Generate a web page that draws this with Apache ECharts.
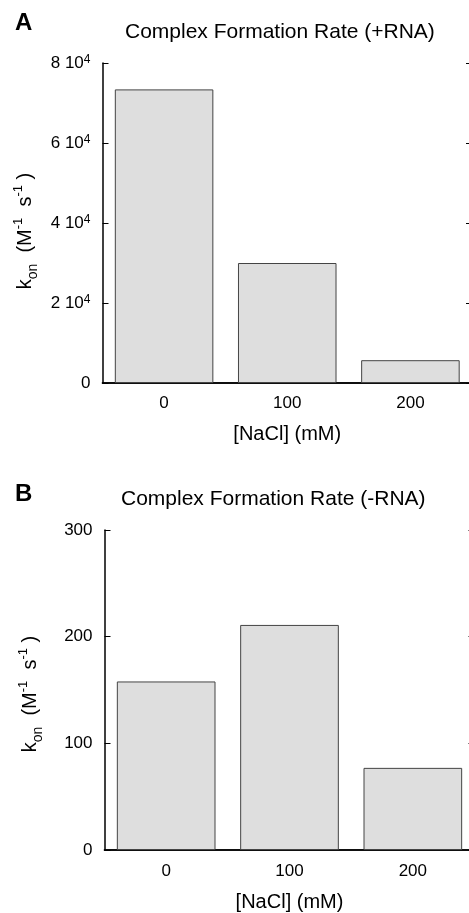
<!DOCTYPE html>
<html>
<head>
<meta charset="utf-8">
<script src="https://cdn.jsdelivr.net/npm/echarts@6/dist/echarts.min.js"></script>
<style>
  html, body { margin: 0; padding: 0; background: #fff; }
  #chart { width: 469px; height: 913px; }
</style>
</head>
<body>
<div id="chart"></div>
<script>
// data
const categories = ['0', '100', '200'];
const rateWithRNA = [73400, 30000, 5700];      // k_on, +RNA
const rateWithoutRNA = [158, 211, 77];         // k_on, -RNA
const ticksWithRNA = [0, 20000, 40000, 60000, 80000];
const ticksWithoutRNA = [0, 100, 200, 300];

const FONT = 'Liberation Sans, Arial, sans-serif';
const BAR_FILL = '#dedede';
const BAR_EDGE = '#444';

const chart = echarts.init(document.getElementById('chart'));

// k_on (M^-1 s^-1), written with rich text
const konName = '{m|k}{sub|on}{m|  (M}{sup|-1}{m|  s}{sup|-1}{m| )}';
const konRich = {
  m: { fontSize: 20, fontFamily: FONT, color: '#000', lineHeight: 22 },
  sub: { fontSize: 14, fontFamily: FONT, color: '#000', lineHeight: 22, padding: [15, 0, 0, 0] },
  sup: { fontSize: 13, fontFamily: FONT, color: '#000', lineHeight: 22, padding: [0, 0, 14, 0] }
};

const tickRich = {
  n: { fontSize: 17, fontFamily: FONT, color: '#000', lineHeight: 18 },
  e: { fontSize: 12, fontFamily: FONT, color: '#000', lineHeight: 18, padding: [0, 0, 7, 0] }
};

function frameAxes(gridIndex) {
  // top / right edges of the box, ticks pointing inward, no labels
  return {
    x: {
      type: 'category', gridIndex, position: 'top', data: categories,
      axisLine: { lineStyle: { color: '#000', width: 1.5 } },
      axisTick: { inside: true, length: 6, lineStyle: { color: '#000' } },
      axisLabel: { show: false }
    },
    y: (max, interval) => ({
      type: 'value', gridIndex, position: 'right', min: 0, max, interval,
      axisLine: { show: true, lineStyle: { color: '#000', width: 1.5 } },
      axisTick: { show: true, inside: true, length: 6, lineStyle: { color: '#000' } },
      axisLabel: { show: false },
      splitLine: { show: false }
    })
  };
}

function bottomAxis(gridIndex, margin, nameGap) {
  return {
    type: 'category', gridIndex, position: 'bottom', data: categories,
    name: '[NaCl] (mM)', nameLocation: 'middle', nameGap,
    nameTextStyle: { fontSize: 20, fontFamily: FONT, color: '#000' },
    axisLine: { lineStyle: { color: '#000', width: 1.5 } },
    axisTick: { inside: true, length: 6, lineStyle: { color: '#000' } },
    axisLabel: { margin, fontSize: 17, fontFamily: FONT, color: '#000' }
  };
}

function leftAxis(gridIndex, max, interval, nameGap, shift, formatter) {
  return {
    type: 'value', gridIndex, position: 'left', min: 0, max, interval,
    name: konName, nameLocation: 'middle', nameRotate: 90, nameGap,
    nameTextStyle: { rich: konRich, padding: [0, shift, 0, 0] },
    axisLine: { show: true, lineStyle: { color: '#000', width: 1.5 } },
    axisTick: { show: true, inside: true, length: 6, lineStyle: { color: '#000' } },
    axisLabel: { margin: 12, formatter, rich: tickRich },
    splitLine: { show: false }
  };
}

const frameA = frameAxes(0);
const frameB = frameAxes(1);
const stepA = ticksWithRNA[1] - ticksWithRNA[0];
const stepB = ticksWithoutRNA[1] - ticksWithoutRNA[0];
const maxA = ticksWithRNA[ticksWithRNA.length - 1];
const maxB = ticksWithoutRNA[ticksWithoutRNA.length - 1];

const bigLetter = { fontSize: 24, fontWeight: 'bold', fontFamily: FONT, color: '#000' };
const heading = { fontSize: 21, fontWeight: 'normal', fontFamily: FONT, color: '#000' };

const option = {
  backgroundColor: '#fff',
  animation: false,
  title: [
    { text: 'A', left: 15, top: 11, padding: 0, textStyle: bigLetter },
    { text: 'Complex Formation Rate (+RNA)', left: 125, top: 22, padding: 0, textStyle: heading },
    { text: 'B', left: 15, top: 482, padding: 0, textStyle: bigLetter },
    { text: 'Complex Formation Rate (-RNA)', left: 121, top: 489, padding: 0, textStyle: heading }
  ],
  // the plot boxes run a few pixels past the right edge of the page
  grid: [
    { left: 102.5, width: 369.5, top: 63, height: 320, outerBoundsMode: 'none' },
    { left: 104.5, width: 370, top: 530, height: 320, outerBoundsMode: 'none' }
  ],
  xAxis: [
    bottomAxis(0, 12, 41),
    frameA.x,
    bottomAxis(1, 13, 42),
    frameB.x
  ],
  yAxis: [
    leftAxis(0, maxA, stepA, 61, 16, v => v === 0 ? '{n|0}' : '{n|' + (v / 10000) + ' 10}{e|4}'),
    frameA.y(maxA, stepA),
    leftAxis(1, maxB, stepB, 63, 8, v => '{n|' + v + '}'),
    frameB.y(maxB, stepB)
  ],
  series: [
    {
      type: 'bar', xAxisIndex: 0, yAxisIndex: 0, data: rateWithRNA,
      barCategoryGap: '20%',
      itemStyle: { color: BAR_FILL, borderColor: BAR_EDGE, borderWidth: 1 }
    },
    {
      type: 'bar', xAxisIndex: 2, yAxisIndex: 2, data: rateWithoutRNA,
      barCategoryGap: '20%',
      itemStyle: { color: BAR_FILL, borderColor: BAR_EDGE, borderWidth: 1 }
    }
  ]
};

chart.setOption(option);
window.addEventListener('resize', () => chart.resize());
</script>
</body>
</html>
